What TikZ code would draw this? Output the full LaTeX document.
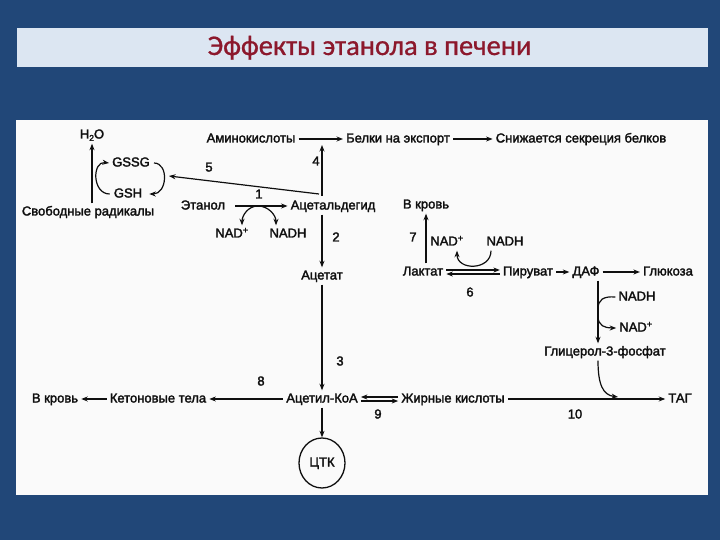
\documentclass[tikz,border=0pt]{standalone}
\usepackage{fontspec}
\setmainfont{Liberation Sans}
\newfontfamily\diag{Liberation Sans}[FakeBold=2.2]
\newfontfamily\titlefont{Carlito}[FakeBold=0.8]
\usetikzlibrary{arrows.meta,shapes.geometric}
\definecolor{bgblue}{RGB}{33,71,120}
\definecolor{titlebar}{RGB}{220,230,242}
\definecolor{titlered}{RGB}{140,24,44}
\definecolor{panel}{RGB}{250,250,250}
\definecolor{ink}{RGB}{15,15,15}
\begin{document}
\begin{tikzpicture}[x=1bp,y=-1bp,
  txt/.style={font=\diag\fontsize{13bp}{15bp}\selectfont, text=ink, inner sep=3bp, text height=9bp, text depth=2bp},
  arr/.style={draw=ink, -{Stealth[length=6.5bp,width=5bp]}, line width=1.2bp},
  ln/.style={draw=ink, line width=1.2bp}]
\useasboundingbox (0,0) rectangle (720,540);
\fill[bgblue] (0,0) rectangle (720,540);
\fill[titlebar] (17,28) rectangle (708,67);
\node[font=\titlefont\fontsize{28.5bp}{32bp}\selectfont, text=titlered, anchor=base] (title) at (369.5,55) {Эффекты этанола в печени};
\fill[panel] (16,120) rectangle (708,495);

% nodes
\node[txt] (h2o) at (92,135) {H\raisebox{-0.35ex}{\fontsize{8.5bp}{9bp}\selectfont 2}O};
\node[txt] (gssg) at (131,163) {GSSG};
\node[txt] (gsh) at (128,194) {GSH};
\node[txt] (rad) at (88,212) {Свободные радикалы};
\node[txt] (l5) at (209,168) {5};
\node[txt] (amino) at (251,139) {Аминокислоты};
\node[txt] (belki) at (398,139) {Белки на экспорт};
\node[txt] (snizh) at (581,139) {Снижается секреция белков};
\node[txt] (l4) at (316,162) {4};
\node[txt] (etanol) at (203,206) {Этанол};
\node[txt] (l1) at (259,195) {1};
\node[txt] (acetald) at (333,206) {Ацетальдегид};
\node[txt] (nad1) at (232,234) {NAD\textsuperscript{+}};
\node[txt] (nadh1) at (288,234) {NADH};
\node[txt] (l2) at (336,238) {2};
\node[txt] (acetat) at (322,276) {Ацетат};
\node[txt] (krov1) at (426,205) {В кровь};
\node[txt] (l7) at (413,238) {7};
\node[txt] (nad2) at (447,242) {NAD\textsuperscript{+}};
\node[txt] (nadh2) at (505,242) {NADH};
\node[txt] (laktat) at (423,272) {Лактат};
\node[txt] (piruvat) at (528,272) {Пируват};
\node[txt] (daf) at (586,272) {ДАФ};
\node[txt] (gluk) at (668,272) {Глюкоза};
\node[txt] (l6) at (470,293) {6};
\node[txt] (nadh3) at (637,297) {NADH};
\node[txt] (nad3) at (636,328) {NAD\textsuperscript{+}};
\node[txt] (glic) at (605,352) {Глицерол-3-фосфат};
\node[txt] (l3) at (340,362) {3};
\node[txt] (l8) at (261,382) {8};
\node[txt] (krov2) at (55,399) {В кровь};
\node[txt] (keton) at (158,399) {Кетоновые тела};
\node[txt] (acoa) at (322,399) {Ацетил-КоА};
\node[txt] (zhir) at (453,399) {Жирные кислоты};
\node[txt] (tag) at (680,399) {ТАГ};
\node[txt] (l9) at (378,415) {9};
\node[txt] (l10) at (575,415) {10};
\node[txt, draw=ink, ellipse, line width=1.3bp, minimum width=46bp, minimum height=50bp, inner sep=0pt] (ctk) at (322,463) {ЦТК};

% helper coordinates
\coordinate (v4a) at (322,196);
\coordinate (v4b) at (322,145);
\coordinate (v5a) at (319,194);
\coordinate (v5b) at (169,176);

% top row
\draw[arr] (amino) -- (belki);
\draw[arr] (belki) -- (snizh);
\draw[arr] (v4a) -- (v4b);
\draw[arr] (v5a) -- (v5b);

% glutathione loop
\draw[arr] ([xshift=1bp]gssg.east) .. controls +(15,0) and +(18,0) .. ([xshift=4bp]gsh.east);
\draw[arr] ([xshift=-1bp]gsh.west) .. controls (92,194) and (92,161) .. ([xshift=0bp]gssg.west);
\draw[arr] (h2o.south |- rad.north) -- (h2o.south);

% ethanol
\draw[arr, shorten <=7bp] (etanol) -- coordinate (m1) (acetald);
\draw[arr] (m1) to[out=180,in=90] ([xshift=10bp]nad1.north);
\draw[arr] (m1) to[out=0,in=90] ([xshift=-12bp]nadh1.north);
\draw[arr] (acetat.north |- acetald.south) -- (acetat.north);
\draw[arr] (acetat.south) -- (acetat.south |- acoa.north);

% lactate
\draw[arr] ([yshift=-2bp]piruvat.west) -- ([yshift=-2bp]laktat.east);
\draw[arr] ([yshift=2bp]laktat.east) -- ([yshift=2bp]piruvat.west);
\draw[arr] ([xshift=-14bp]nadh2.south) .. controls +(0,20) and +(0,20) .. ([xshift=10bp]nad2.south);
\draw[arr] (krov1.south |- laktat.north) -- (krov1.south);
\draw[arr] (piruvat) -- (daf);
\draw[arr] (daf) -- (gluk);

% glycerol
\draw[arr] ([xshift=12bp]daf.south) -- ([xshift=12bp]daf.south |- glic.north);
\draw[ln] (nadh3.west) .. controls (603,296) and (598,300) .. (598,309);
\draw[arr] (598,316) .. controls (598,326) and (605,328) .. (nad3.west);
\draw[arr] ([xshift=-7bp]glic.south) .. controls +(0,24) and (603,395) .. (618,397);

% acetyl-CoA
\draw[arr] (acoa) -- (keton);
\draw[arr] (keton) -- (krov2);
\draw[arr] (acoa) -- (ctk);
\draw[arr] ([yshift=-2bp]acoa.east) -- ([yshift=-2bp]zhir.west);
\draw[arr] ([yshift=2bp]zhir.west) -- ([yshift=2bp]acoa.east);
\draw[arr] (zhir) -- (tag);
\end{tikzpicture}
\end{document}
